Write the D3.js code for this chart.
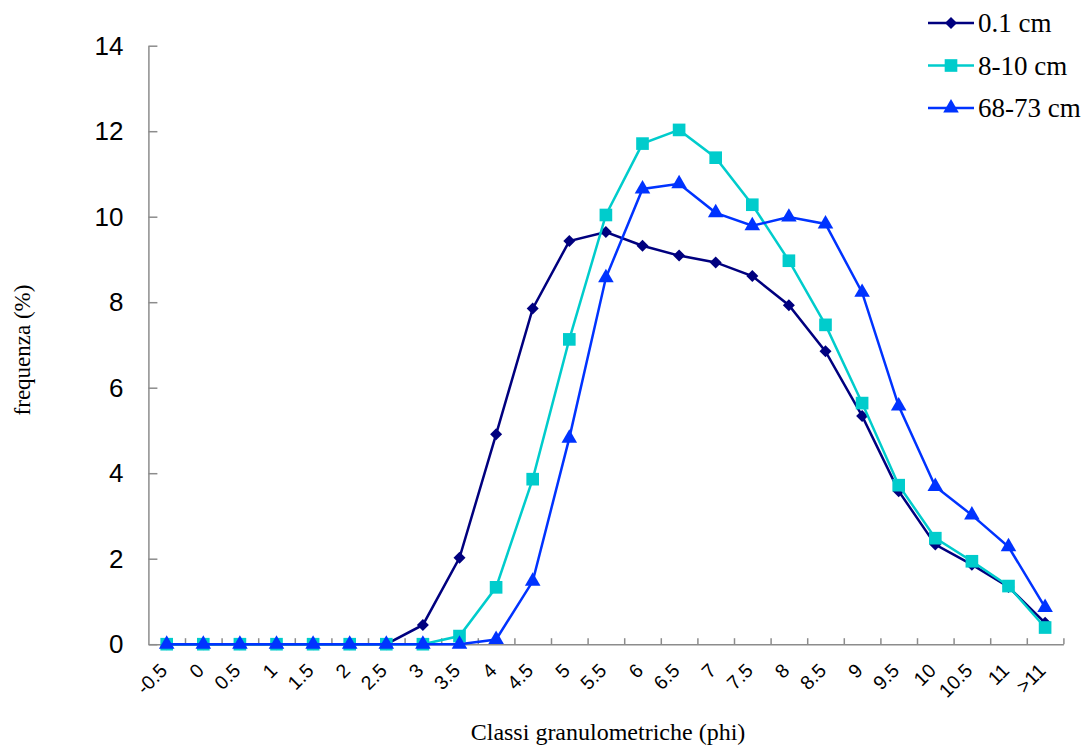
<!DOCTYPE html>
<html>
<head>
<meta charset="utf-8">
<script src="https://cdn.jsdelivr.net/npm/d3@7"></script>
<style>
  body { margin: 0; background: #fff; }
  svg { display: block; }
</style>
</head>
<body>
<svg width="1088" height="749"></svg>
<script>
// categories (phi classes)
const categories = ["-0.5", "0", "0.5", "1", "1.5", "2", "2.5", "3", "3.5", "4", "4.5", "5", "5.5",
  "6", "6.5", "7", "7.5", "8", "8.5", "9", "9.5", "10", "10.5", "11", ">11"];

// series values (%)
const s01 = [0, 0, 0, 0, 0, 0, 0, 0.45, 2.02, 4.91, 7.85, 9.43, 9.64, 9.32, 9.09, 8.93, 8.61,
  7.93, 6.85, 5.34, 3.58, 2.33, 1.86, 1.34, 0.5];
const s810 = [0, 0, 0, 0, 0, 0, 0, 0, 0.19, 1.33, 3.86, 7.13, 10.04, 11.71, 12.03, 11.38, 10.28,
  8.97, 7.47, 5.64, 3.72, 2.48, 1.94, 1.36, 0.39];
const s6873 = [0, 0, 0, 0, 0, 0, 0, 0, 0, 0.11, 1.47, 4.82, 8.57, 10.65, 10.77, 10.09, 9.79,
  9.99, 9.83, 8.23, 5.57, 3.69, 3.02, 2.28, 0.86];

const seriesNames = ["0.1 cm", "8-10 cm", "68-73 cm"];
const seriesColors = ["#00007f", "#00cccc", "#0033ff"];
const yTicks = [0, 2, 4, 6, 8, 10, 12, 14];

const svg = d3.select("svg");

const x = d3.scaleBand()
  .domain(categories)
  .range([148.4, 1063.4])
  .padding(0);

const xb = d3.scaleLinear()
  .domain([0, categories.length])
  .range([148.4, 1063.4]);

const y = d3.scaleLinear()
  .domain([0, 14])
  .range([644.2, 45.7]);

// y axis
const gy = svg.append("g")
  .attr("transform", "translate(148.4,0)")
  .call(d3.axisLeft(y).tickValues(yTicks).tickSize(-9).tickPadding(25).tickSizeOuter(0));
gy.select(".domain").attr("stroke", "#8c8c8c").attr("stroke-width", 1.5);
gy.selectAll(".tick line").attr("stroke", "#8c8c8c").attr("stroke-width", 1.5);
gy.selectAll(".tick text")
  .attr("font-family", "'Liberation Sans', Arial, sans-serif")
  .attr("font-size", 26)
  .attr("fill", "#000");

// x axis (ticks on the class boundaries)
const gx = svg.append("g")
  .attr("transform", "translate(0,644.2)")
  .call(d3.axisBottom(xb).tickValues(d3.range(1, categories.length + 1)).tickSize(-6)
    .tickFormat("").tickSizeOuter(0));
gx.select(".domain").attr("stroke", "#8c8c8c").attr("stroke-width", 1.5);
gx.selectAll(".tick line").attr("stroke", "#8c8c8c").attr("stroke-width", 1.5);

// rotated labels
svg.append("g")
  .selectAll("text")
  .data(categories)
  .enter()
  .append("text")
  .attr("transform", d => "translate(" + (x(d) + x.bandwidth() / 2 - 3) + ",667) rotate(-45)")
  .attr("text-anchor", "end")
  .attr("dy", "0.35em")
  .attr("font-family", "'Liberation Sans', Arial, sans-serif")
  .attr("font-size", 19.5)
  .text(d => d);

// axis titles
svg.append("text")
  .attr("x", 608)
  .attr("y", 740)
  .attr("text-anchor", "middle")
  .attr("font-family", "'Liberation Serif', 'Times New Roman', serif")
  .attr("font-size", 24)
  .text("Classi granulometriche (phi)");

svg.append("text")
  .attr("transform", "translate(30,350) rotate(-90)")
  .attr("text-anchor", "middle")
  .attr("font-family", "'Liberation Serif', 'Times New Roman', serif")
  .attr("font-size", 23)
  .text("frequenza (%)");

// series
const series = [s01, s810, s6873];
const symbols = [
  d3.symbol().type(d3.symbolSquare).size(72),
  d3.symbol().type(d3.symbolSquare).size(160),
  d3.symbol().type(d3.symbolTriangle).size(105)
];
const rot = [45, 0, 0];

const line = d3.line()
  .x((d, i) => x(categories[i]) + x.bandwidth() / 2)
  .y(d => y(d));

series.forEach((vals, k) => {
  const g = svg.append("g");
  g.append("path")
    .datum(vals)
    .attr("d", line)
    .attr("fill", "none")
    .attr("stroke", seriesColors[k])
    .attr("stroke-width", 2.5);
  g.selectAll("path.m")
    .data(vals)
    .enter()
    .append("path")
    .attr("class", "m")
    .attr("d", symbols[k])
    .attr("transform", (d, i) => "translate(" + (x(categories[i]) + x.bandwidth() / 2) + "," + y(d) + ") rotate(" + rot[k] + ")")
    .attr("fill", seriesColors[k]);
});

// legend
const legend = svg.append("g");
seriesNames.forEach((name, k) => {
  const ly = 23 + k * 42.5;
  legend.append("line")
    .attr("x1", 928).attr("x2", 974)
    .attr("y1", ly).attr("y2", ly)
    .attr("stroke", seriesColors[k])
    .attr("stroke-width", 2.5);
  legend.append("path")
    .attr("d", symbols[k])
    .attr("transform", "translate(951," + ly + ") rotate(" + rot[k] + ")")
    .attr("fill", seriesColors[k]);
  legend.append("text")
    .attr("x", 978)
    .attr("y", ly)
    .attr("dy", "0.35em")
    .attr("font-family", "'Liberation Serif', 'Times New Roman', serif")
    .attr("font-size", 27)
    .text(name);
});
</script>
</body>
</html>
